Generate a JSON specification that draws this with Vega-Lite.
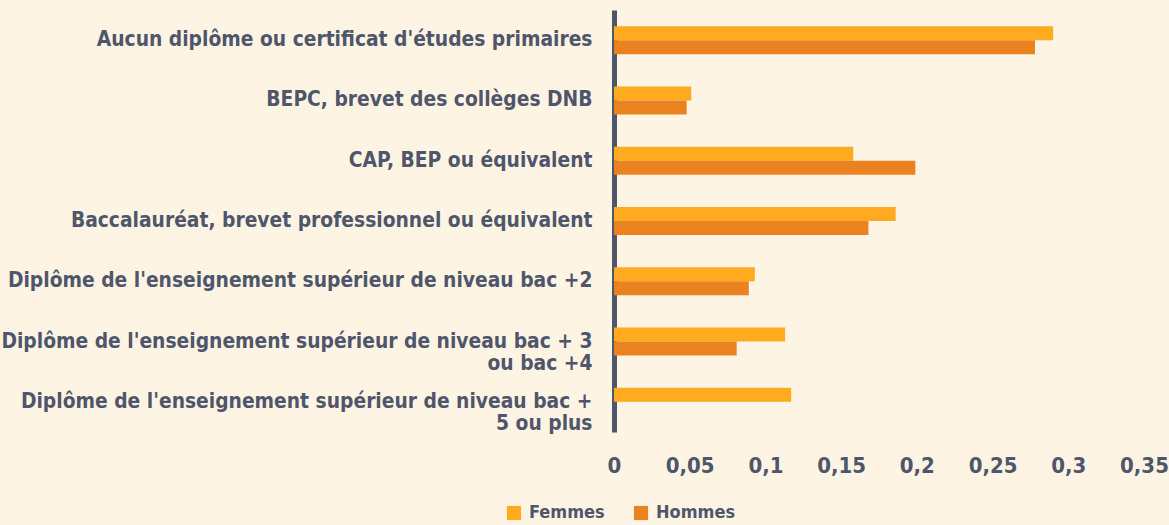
{
  "$schema": "https://vega.github.io/schema/vega-lite/v6.json",
  "width": 530,
  "height": 422,
  "autosize": "none",
  "padding": {"left": 614, "top": 10, "right": 25, "bottom": 93},
  "background": "#FDF4E3",
  "config": {
    "view": {"stroke": null},
    "font": "DejaVu Sans Condensed, Roboto",
    "text": {"font": "DejaVu Sans Condensed, Roboto"}
  },
  "data": {
    "values": [
      {"diplome": "Aucun diplôme ou certificat d'études primaires", "sexe": "Femmes", "part": 0.290},
      {"diplome": "Aucun diplôme ou certificat d'études primaires", "sexe": "Hommes", "part": 0.278},
      {"diplome": "BEPC, brevet des collèges DNB", "sexe": "Femmes", "part": 0.051},
      {"diplome": "BEPC, brevet des collèges DNB", "sexe": "Hommes", "part": 0.048},
      {"diplome": "CAP, BEP ou équivalent", "sexe": "Femmes", "part": 0.158},
      {"diplome": "CAP, BEP ou équivalent", "sexe": "Hommes", "part": 0.199},
      {"diplome": "Baccalauréat, brevet professionnel ou équivalent", "sexe": "Femmes", "part": 0.186},
      {"diplome": "Baccalauréat, brevet professionnel ou équivalent", "sexe": "Hommes", "part": 0.168},
      {"diplome": "Diplôme de l'enseignement supérieur de niveau bac +2", "sexe": "Femmes", "part": 0.093},
      {"diplome": "Diplôme de l'enseignement supérieur de niveau bac +2", "sexe": "Hommes", "part": 0.089},
      {"diplome": "Diplôme de l'enseignement supérieur de niveau bac + 3|ou bac +4", "sexe": "Femmes", "part": 0.113},
      {"diplome": "Diplôme de l'enseignement supérieur de niveau bac + 3|ou bac +4", "sexe": "Hommes", "part": 0.081},
      {"diplome": "Diplôme de l'enseignement supérieur de niveau bac +|5 ou plus", "sexe": "Femmes", "part": 0.117},
      {"diplome": "Diplôme de l'enseignement supérieur de niveau bac +|5 ou plus", "sexe": "Hommes", "part": null}
    ]
  },
  "mark": {"type": "bar"},
  "encoding": {
    "y": {
      "field": "diplome",
      "type": "nominal",
      "sort": null,
      "title": null,
      "scale": {"paddingInner": 0.535, "paddingOuter": 0.2675},
      "axis": {
        "labelExpr": "split(datum.label, '|')",
        "labelFont": "DejaVu Sans Condensed, Roboto",
        "labelFontWeight": "bold",
        "labelFontSize": 20.8,
        "labelColor": "#4F566B",
        "labelLineHeight": 22,
        "labelLimit": 700,
        "labelPadding": 22,
        "ticks": false,
        "domainColor": "#4F566B",
        "domainWidth": 5,
        "grid": false
      }
    },
    "yOffset": {"field": "sexe", "type": "nominal", "sort": ["Femmes", "Hommes"]},
    "x": {
      "field": "part",
      "type": "quantitative",
      "title": null,
      "scale": {"domain": [0, 0.35], "nice": false},
      "axis": {
        "values": [0, 0.05, 0.1, 0.15, 0.2, 0.25, 0.3, 0.35],
        "labelExpr": "replace(format(datum.value, '~g'), '.', ',')",
        "labelFont": "DejaVu Sans Condensed, Roboto",
        "labelFontWeight": "bold",
        "labelFontSize": 22,
        "labelColor": "#4F566B",
        "labelPadding": 23,
        "labelFlush": false,
        "ticks": false,
        "domain": false,
        "grid": false
      }
    },
    "color": {
      "field": "sexe",
      "type": "nominal",
      "scale": {"domain": ["Femmes", "Hommes"], "range": ["#FFAA1F", "#EB8220"]},
      "legend": {
        "title": null,
        "orient": "none",
        "direction": "horizontal",
        "legendX": -109,
        "legendY": 494,
        "symbolType": "square",
        "symbolSize": 200,
        "symbolStrokeWidth": 0,
        "labelFont": "DejaVu Sans Condensed, Roboto",
        "labelFontWeight": "bold",
        "labelFontSize": 18,
        "labelColor": "#4F566B",
        "columnPadding": 27,
        "labelOffset": 6
      }
    }
  }
}
